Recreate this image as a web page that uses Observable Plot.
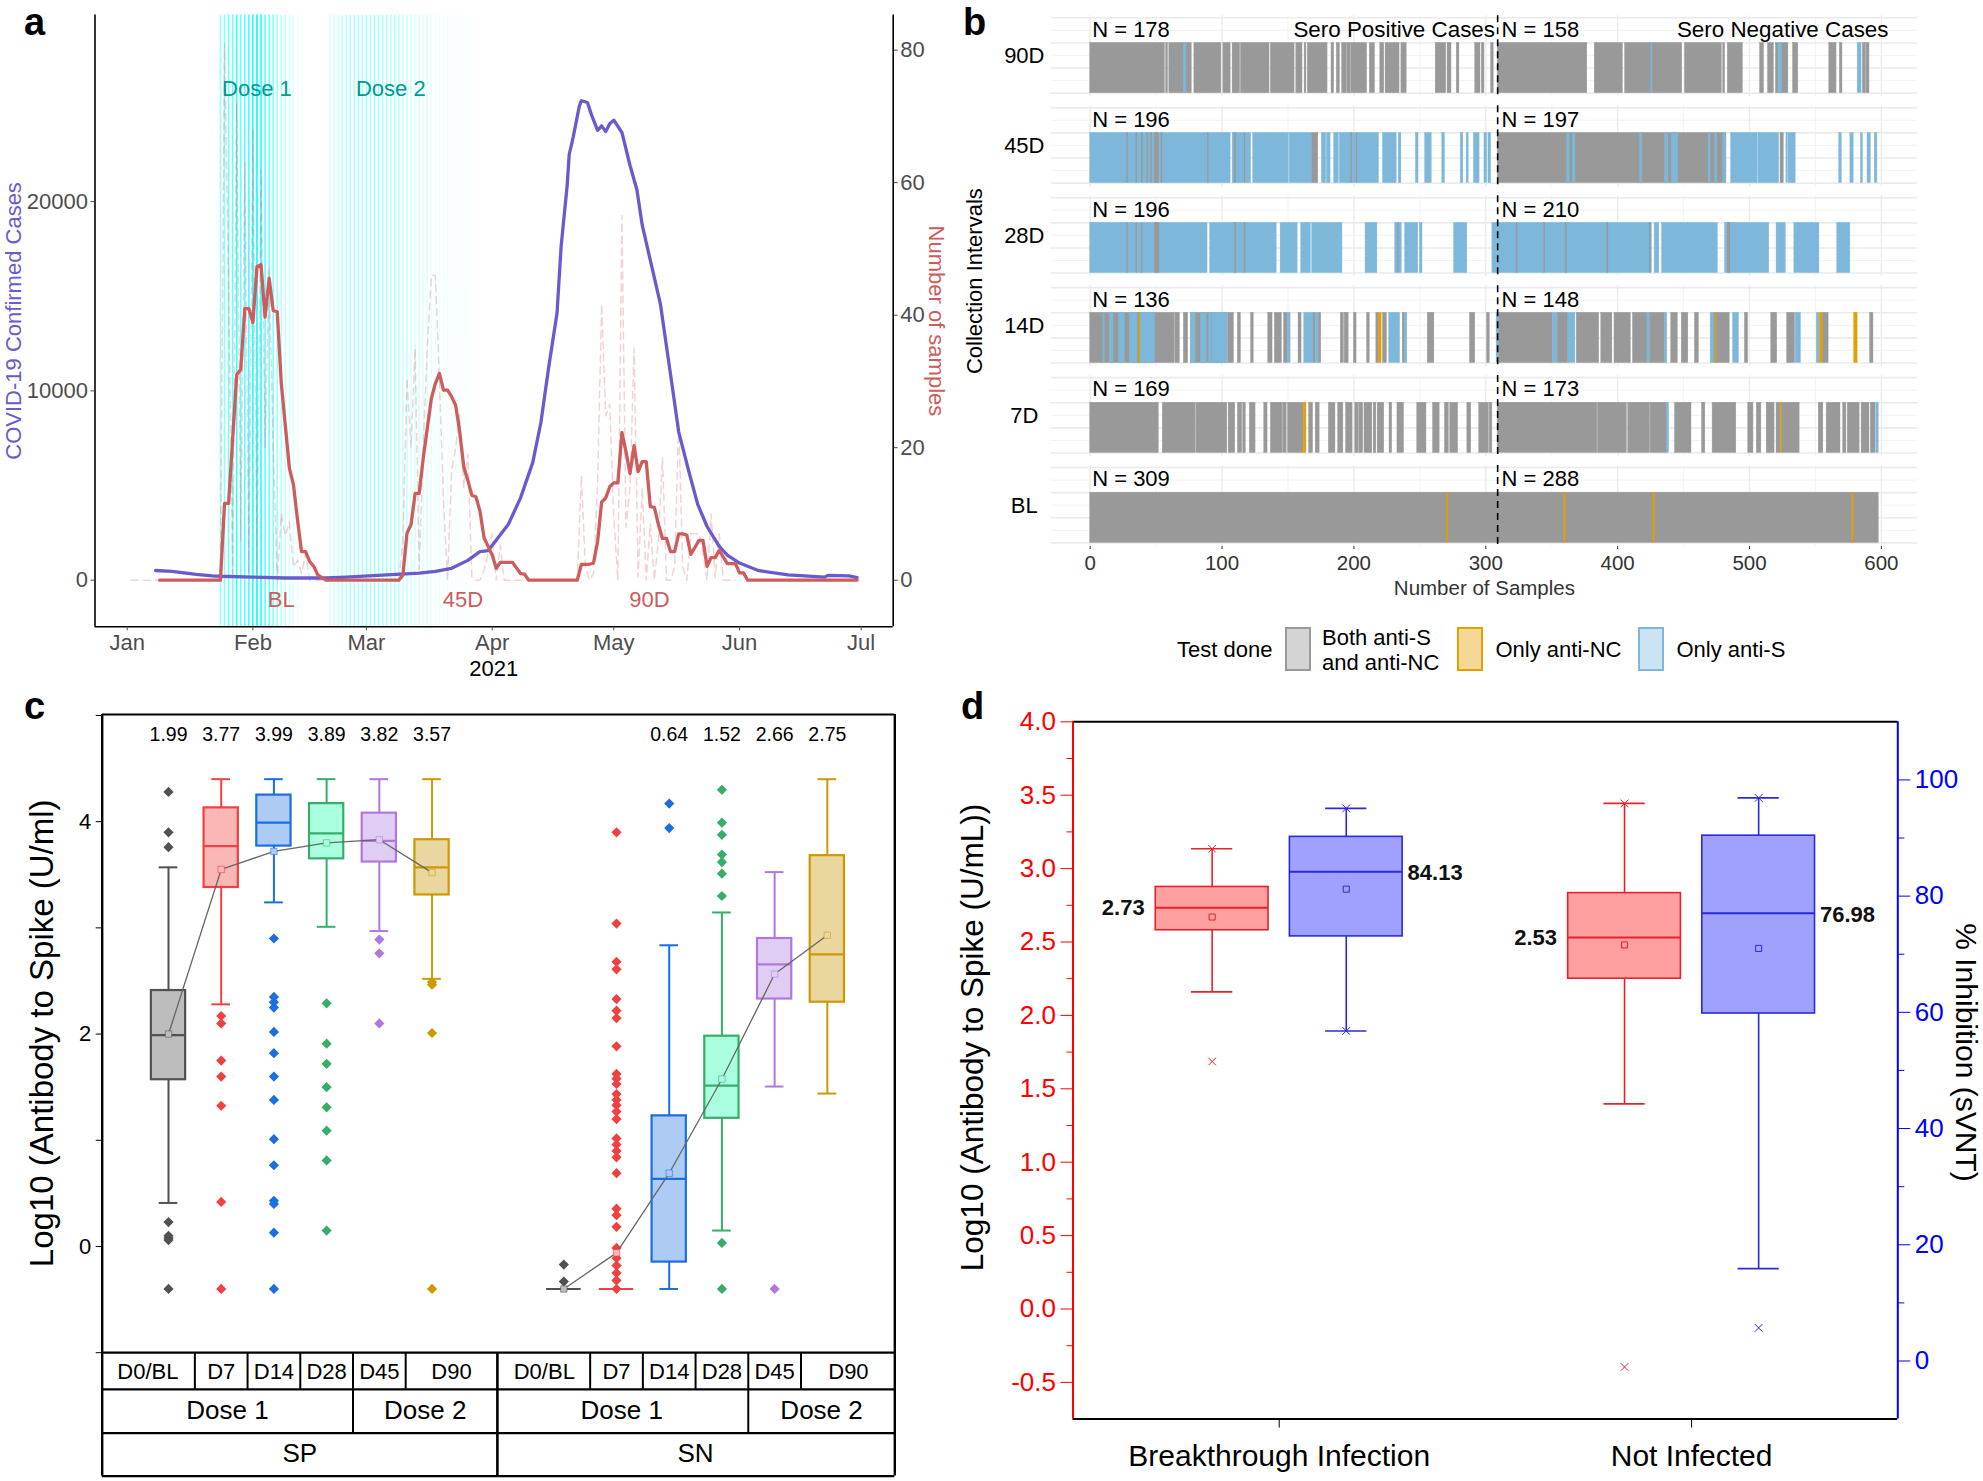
<!DOCTYPE html>
<html>
<head>
<meta charset="utf-8">
<script src="https://cdn.jsdelivr.net/npm/d3@7"></script>
<script src="https://cdn.jsdelivr.net/npm/@observablehq/plot@0.6"></script>
<style>
  html, body { margin: 0; padding: 0; background: #fff; }
  #page { position: relative; width: 1983px; height: 1481px; overflow: hidden; font-family: "Liberation Sans", Arial, sans-serif; }
  #page svg { position: absolute; background: transparent; }
  .letter { position: absolute; font-weight: bold; font-size: 38px; line-height: 32px; color: #000; }
  .legendText { position: absolute; font-size: 22px; line-height: 25px; color: #000; white-space: nowrap; }
  .swatch { position: absolute; box-sizing: border-box; border-width: 2px; border-style: solid; }
</style>
</head>
<body>
<div id="page"></div>
<script>
// ---------- Panel a data (day = days since 1 Jan 2021) ----------
const monthTicks = ["2021-01-01","2021-02-01","2021-03-01","2021-04-01","2021-05-01","2021-06-01","2021-07-01"];
const casesTicks = [0, 10000, 20000];
const samplesTicks = [0, 20, 40, 60, 80];
const confirmedCases = [[7,512],[11,465],[17,302],[21,233],[23,209],[31,163],[39,116],[49,116],[54,163],[64,279],[72,372],[76,465],[80,628],[84,1047],[87,1512],[89,1558],[94,2953],[97,4349],[100,6209],[102,8302],[104,11326],[106,14116],[107,17605],[108.5,20860],[109,22488],[110,23419],[111.5,25047],[112,25326],[113.5,25233],[114.5,24581],[116,23767],[117,24000],[118,23698],[119,24116],[120,24302],[122,23651],[124,21907],[125.7,20628],[127,18767],[129,16907],[131.5,14581],[134,10860],[136,7837],[138.5,5744],[140.7,4000],[143,2837],[146,1791],[148,1326],[151,907],[155.6,512],[163,279],[172,163],[172.8,256],[178,233],[180,140]];
const samplesAverage = [[8,0],[23,0],[24,11.6],[25,11.6],[27,31],[28,31.8],[29,41],[30,41],[31,38.9],[32,47.3],[33,47.6],[34,39.7],[35,45.6],[36,40.7],[37,40.5],[38,29.7],[40,16.9],[41,14.4],[42,9.1],[43,4.3],[44,4.3],[45,2.8],[46,2.1],[47,.8],[49,0],[67,0],[68,.8],[69,7.1],[70,8.4],[71,13.1],[72,13.1],[73,18.4],[75,27.4],[76,29.7],[77,31.2],[78,28.7],[79,28.7],[80,27.7],[81,26.4],[82,22.4],[83,17.1],[84,15.1],[85,12.8],[86,12.6],[87,10.4],[88,6.4],[89,5.1],[90,3.8],[91,1.8],[92,2.7],[95,2.7],[97,1],[98,.9],[99,0],[111,0],[112,2.4],[114,2.4],[115,2.6],[116,5.8],[117,11.8],[118,12.4],[119,14.1],[120,14.7],[121,14.7],[122,22.3],[123,19.4],[124,16.1],[125,20.3],[126,16.4],[127,17.9],[128,17.9],[129,11.1],[130,11],[131,8.4],[132,6.3],[133,6.3],[134,4.3],[135,4.3],[136,7],[137,7],[138,6.8],[139,3.9],[141,6],[142,6],[143,2.1],[144,3.4],[145,3.4],[146,4.5],[147,3.5],[148,2.5],[150,2.5],[151,1.1],[152,1.1],[153,0],[180,0]];
const samplesDaily = [[1,0],[23,0],[24,81],[25,45],[26,1],[27,72],[28,6],[29,63],[30,1],[31,68],[32,1],[33,62],[34,20],[35,47],[36,20],[37,0],[38,10],[39,6.7],[40,8.8],[41,2],[42,3],[43,1],[44,4],[45,0],[67,0],[68,6],[69,30.5],[70,20],[71,35],[72,1.6],[73,20],[74,35],[75,46],[76,46],[77,30],[78,12],[79,0],[80,16.5],[81,20],[82,25],[83,14],[84,19],[85,.5],[86,0],[87,0],[88,1.5],[89,4],[90,7],[91,0],[92,5.3],[93,0],[111,0],[112,15.8],[113,2],[114,0],[115,1],[116,14.6],[117,41.7],[118,24.8],[119,26.6],[120,9.5],[121,0],[122,55],[123,8],[124,14],[125,35],[126,.5],[127,13.9],[128,0],[129,8.5],[130,0],[131,6],[132,18.5],[133,0],[134,0],[135,2],[136,24],[137,2],[138,0],[139,7],[140,7],[141,7],[142,4],[143,0],[144,10],[145,.4],[146,7],[147,0],[150,0]];
const dose1Days = [23,24,25,26,27,28,29,30,31,32,33,34,35,36,37,38,39,40,41,42,43];
const dose1Share = [.4,.45,.55,.6,.8,.6,.65,.75,.9,1,.9,.65,.6,.5,.4,.3,.22,.16,.12,.08,.05];
const dose2Days = [50,51,52,53,54,55,56,57,58,59,60,61,62,63,64,65,66,67,68,69,70,71,72,73,74,75,76,77,78,79,80,81,82,83,84];
const dose2Share = [.15,.2,.22,.28,.28,.32,.32,.32,.32,.38,.32,.38,.32,.32,.32,.28,.28,.28,.22,.22,.16,.16,.16,.13,.12,.1,.08,.08,.06,.05,.05,.04,.04,.03,.03];
const periodLabels = ["BL","45D","90D"];
const periodDays = [38,82.8,128.8];
const doseLabels = ["Dose 1","Dose 2"];
const doseLabelDays = [32,65];

// ---------- Panel b data: [from, to, test]; later segments lie on top ----------
const testLabels = ["Both anti-S and anti-NC","Only anti-NC","Only anti-S"];
const testColors = ["#999999","#E69F00","#7DB8DB"];
const [B, N, S] = testLabels;
const intervalRows = ["90D","45D","28D","14D","7D","BL"];
const rowCountsPositive = [178,196,196,136,169,309];
const rowCountsNegative = [158,197,210,148,173,288];
const row90D = [[0,56.6,B],[57.5,59,B],[60,77,B],[71,73,S],[79,99.5,B],[101,106.5,B],[108,113.7,B],[114.3,136,B],[137,155,B],[156.3,161,B],[162.6,164,B],[165,180,B],[183,185,B],[187,189.4,B],[191,194.5,B],[195,197.5,B],[198,210,B],[212,216,B],[220,223,B],[224,234.6,B],[236,240,B],[262,270,B],[271,274,B],[278,280,B],[292,296,B],[297,299,B],[304,306,B],
  [309,377,B],[382.6,404,B],[405.6,449,B],[425.6,426.4,S],[451,479,B],[480,481.5,B],[483.5,495,B],[508,511,B],[514,518.5,B],[520,529.5,B],[522,524.5,S],[533,537,B],[560.5,566,B],[568.5,570.5,B],[582,585,S],[586,588,B],[588.5,591,B]];
const row45D = [[0,106.5,S],[28,28.7,B],[35,35.7,B],[39,39.8,B],[43.2,44,B],[46.2,47,B],[49,52,B],[54,54.8,B],[89.2,89.9,B],[108,122,S],[109.5,110.7,B],[117,117.7,B],[123.6,150.7,S],[151.3,168.4,S],[168.4,173,B],[175.7,179,S],[179.5,182.3,S],[185,188.6,S],[189.3,219,S],[198,198.7,B],[202,202.7,B],[222,232.4,S],[234,236,S],[247,249,S],[254,259,S],[267,269,S],[281,283,S],[285.5,287,S],[291,295.3,S],[299,301,S],[302,304,S],
  [309,482.5,B],[361.6,363.6,S],[366,368,S],[417,418.6,S],[436,438.5,S],[441,446,S],[469,470.5,S],[474,475.5,S],[480,482,S],[486,506.2,S],[506.8,522.5,S],[523.5,526,B],[528,529,S],[529.5,535,S],[568,570,S],[576.5,579,S],[584.5,586,S],[589.5,592,S],[595,597,S]];
const row28D = [[0,89,S],[28,28.7,B],[35,35.7,B],[39,39.7,B],[49,52.5,B],[91,141.4,S],[110,110.8,B],[117,117.8,B],[144.4,157.3,S],[160,167.3,S],[168.3,191.3,S],[208.8,217.8,S],[231.3,236.3,S],[233.4,234.2,B],[238.8,248.8,S],[250,252,S],[276,286,S],[305,308.7,S],
  [308.7,426,S],[323.3,324.1,B],[344.3,345.1,B],[360.6,361.4,B],[392.2,393,B],[424.2,425,B],[428,431.6,S],[433.6,476,S],[481.5,515,S],[483.5,485.5,B],[520.5,527.5,S],[534,553,S],[566.5,576.5,S]];
const row14D = [[0,64.2,B],[10,11,S],[14.7,17.7,S],[21.7,26.3,S],[30,36.4,S],[36.4,37.2,B],[37,38.2,N],[38.2,49.3,S],[64.7,68,B],[71,74.3,B],[76.4,104.2,B],[76.4,80,S],[84,88.5,S],[90,92,S],[92.5,104.2,S],[104.7,109,B],[112,114.3,B],[122,124,B],[135,138.3,B],[140,145.4,B],[147,150,B],[150,152,S],[158,160.3,B],[162.3,169.4,S],[169.4,171,B],[171,173.5,S],[173.5,175.2,B],[190,192.4,B],[193,196,B],[200,202,B],[210,212,B],[217,219,B],[219,221,N],[222,225,B],[226.8,235,S],[237,238.5,B],[238.5,240.5,S],[256,261,B],[288,292,B],[301,303,B],[308.2,310,S],
  [310,351,B],[351,354.6,S],[354.6,362.6,B],[362.6,368,S],[369,386,B],[387.6,396,B],[397.6,410,B],[411.6,422.6,B],[422.6,424.6,S],[424.6,436,B],[436,437.6,S],[440.6,445.6,B],[448.6,453.6,B],[458.6,461.6,B],[470.5,473.5,S],[473.5,485,B],[474.3,475,N],[487.5,492,S],[496.5,499,B],[516.5,521,B],[528.5,534.5,B],[535,539,S],[551,553.5,S],[553.5,556,N],[556,560,B],[579.4,582,N],[591.4,594,B]];
const row7D = [[0,52,B],[55,80,B],[80.6,104,B],[105,110,B],[112,115.3,B],[116,118,B],[121,125.4,B],[132,134.5,B],[137,146,B],[146.5,149,B],[150,162,B],[162,164,N],[166,169,B],[171,174,B],[181,186,B],[188,192,B],[194,199,B],[201,203.5,B],[204,207,B],[208,214,B],[215,217,B],[218,223,B],[227,229,B],[233,238,B],[248,255,B],[260,265,B],[269,272,B],[273,279,B],[286,289,B],[295,302.4,B],[303,305,B],
  [309,384.6,B],[385,407,B],[408,424.6,B],[425,437.6,B],[437.6,439,S],[443.5,456,B],[464,466.5,B],[472,490,B],[499,503,B],[505.5,509,B],[513,519,B],[520.5,524,B],[524,525,N],[525,538,B],[552.5,556,B],[558.5,569,B],[571,573.5,B],[574.5,583.5,B],[585,591,B],[592,595.5,B],[596,598,S]];
const rowBL = [[0,598,B],[270.3,271.3,N],[359.5,360.5,N],[427.1,428.1,N],[577.9,578.9,N]];
const sampleTicks = [0,100,200,300,400,500,600];
const sampleMinorTicks = [50,150,250,350,450,550];
const positiveTotal = 309;

// ---------- Panel c data ----------
const visitLabels = ["D0/BL","D7","D14","D28","D45","D90"];
const slotsSP = [0,1,2,3,4,5];
const slotsSN = [7.5,8.5,9.5,10.5,11.5,12.5];
const boxColors = ["#515151","#F14040","#1A6FDF","#37AD6B","#B177DE","#CC9900"];
const boxFills = ["#bdbdbd","#fbb6b6","#aecbf3","#aaffde","#e0cdf3","#ead7a0"];
const q1SP = [1.57,3.38,3.77,3.65,3.62,3.31];
const q3SP = [2.41,4.13,4.25,4.17,4.08,3.83];
const medianSP = [1.99,3.77,3.99,3.89,3.82,3.57];
const lowSP = [.41,2.28,3.24,3.01,2.97,2.52];
const highSP = [3.57,4.4,4.4,4.4,4.4,4.4];
const meanSP = [2.0,3.55,3.72,3.8,3.83,3.52];
const outliersSP = [
  [4.28,3.9,3.76,.23,.1,.08,.06,-.4],
  [2.17,2.1,1.75,1.6,1.325,.42,-.4],
  [2.9,2.35,2.3,2.25,2.02,1.82,1.6,1.38,1.01,.765,.43,.4,.13,-.4],
  [2.29,1.91,1.72,1.5,1.31,1.09,.81,.15],
  [2.89,2.76,2.1],
  [2.49,2.465,2.01,-.4]];
const q1SN = [-.4,-.4,-.147,1.207,2.33,2.3];
const q3SN = [-.4,-.4,1.23,1.98,2.9,3.68];
const medianSN = [-.4,-.4,.637,1.515,2.656,2.75];
const lowSN = [-.4,-.4,-.4,.15,1.506,1.44];
const highSN = [-.4,-.4,2.836,3.145,3.525,4.4];
const meanSN = [-.4,-.06,.69,1.577,2.565,2.93];
const outliersSN = [
  [-.17,-.33],
  [3.9,3.04,2.68,2.61,2.33,2.22,2.15,1.885,1.625,1.58,1.53,1.435,1.38,1.33,1.27,1.2,1.017,.96,.9,.84,.69,.356,.295,.185,-.014,-.11,-.18,-.25,-.32,-.4],
  [4.17,3.94],
  [4.3,3.99,3.876,3.69,3.62,3.51,3.3,.033,-.4],
  [-.4],
  []];
const medianTextSP = ["1.99","3.77","3.99","3.89","3.82","3.57"];
const medianTextSN = ["","","0.64","1.52","2.66","2.75"];
const tableDoseLabels = ["Dose 1","Dose 2","Dose 1","Dose 2"];
const tableDoseCenters = [1.12,4.87,8.6,12.39];
const tableGroupLabels = ["SP","SN"];
const tableGroupCenters = [2.49,10];
const visitCentersSP = [-.39,1,2,3,4,5.37];
const visitCentersSN = [7.13,8.5,9.5,10.5,11.5,12.9];
const visitEdges = [.5,1.5,2.5,3.5,4.5,8,9,10,11,12];
const doseEdges = [3.5,11];
const logTicks = [-1,0,1,2,3,4,5];

// ---------- Panel d data ----------
const outcomeLabels = ["Breakthrough Infection","Not Infected"];
const outcomeSlots = [1,2];
const spikeQ1 = [2.58,2.25];
const spikeQ3 = [2.875,2.833];
const spikeMedian = [2.733,2.53];
const spikeLow = [2.16,1.397];
const spikeHigh = [3.135,3.444];
const spikeMean = [2.67,2.48];
const spikeOutlier = [1.686,-.395];
const spikeLabel = ["2.73","2.53"];
const svntQ1 = [73.07,59.8];
const svntQ3 = [90.2,90.4];
const svntMedian = [84.2,77.06];
const svntLow = [56.8,15.9];
const svntHigh = [95.1,96.9];
const svntMean = [81.2,71];
const svntLabel = ["84.13","76.98"];
const svntCrosses = [[95.1,56.8],[96.9,5.7]];
const spikeTicks = [-.5,0,.5,1,1.5,2,2.5,3,3.5,4];
const spikeMinorTicks = [-.25,.25,.75,1.25,1.75,2.25,2.75,3.25,3.75];
const svntTicks = [0,20,40,60,80,100];
const svntMinorTicks = [10,30,50,70,90];

// ---------- helpers ----------
const page = document.getElementById("page");
const FONT = '"Liberation Sans", Arial, sans-serif';
function place(svg, left, top) { svg.style.left = left + "px"; svg.style.top = top + "px"; page.appendChild(svg); }
function letter(t, x, y) { const d = document.createElement("div"); d.className = "letter"; d.textContent = t; d.style.left = x + "px"; d.style.top = y + "px"; page.appendChild(d); }

// ---------- Panel a ----------
const dayDate = d => new Date(Date.UTC(2021,0,1) + d*864e5);
const casesPerSample = 350;
const aRed = "#CD5C5C", aBlue = "#6A5ACD";
const dose1 = dose1Days.map((d,i) => ({d, a: dose1Share[i]}));
const dose2 = dose2Days.map((d,i) => ({d, a: dose2Share[i]}));
const doseRules = dose1.concat(dose2);
place(Plot.plot({
  width: 960, height: 690, marginLeft: 94.5, marginRight: 67.3, marginTop: 14.5, marginBottom: 63.7,
  style: {fontFamily: FONT, fontSize: "22px", background: "transparent"},
  x: {type: "utc", domain: [dayDate(-7.94), dayDate(188.9)]},
  y: {domain: [-2462, 29857]},
  marks: [
    Plot.ruleX(doseRules, {x: r => dayDate(r.d), stroke: "#00ffff", strokeOpacity: r => r.a, strokeWidth: 1.6}),
    Plot.line(samplesDaily, {x: r => dayDate(r[0]), y: r => r[1]*casesPerSample, stroke: aRed, strokeOpacity: .27, strokeWidth: 1.5, strokeDasharray: "7,5", curve: "linear"}),
    Plot.line(confirmedCases, {x: r => dayDate(r[0]), y: r => r[1], stroke: aBlue, strokeWidth: 3.3, curve: "linear"}),
    Plot.line(samplesAverage, {x: r => dayDate(r[0]), y: r => r[1]*casesPerSample, stroke: aRed, strokeWidth: 3.3, curve: "linear"}),
    Plot.text(doseLabels, {x: (_,i) => dayDate(doseLabelDays[i]), y: 25974, text: d => d, fill: "#009a93", fontSize: 22}),
    Plot.text(periodLabels, {x: (_,i) => dayDate(periodDays[i]), y: -1046, text: d => d, fill: aRed, fontSize: 22}),
    Plot.ruleY([-2462], {stroke: "#000", strokeWidth: 1.6}),
    Plot.ruleX([dayDate(-7.94)], {stroke: "#000", strokeWidth: 1.6}),
    Plot.ruleX([dayDate(188.9)], {stroke: "#000", strokeWidth: 1.6}),
    Plot.axisX({ticks: monthTicks.map(d => new Date(d)), tickFormat: d3.utcFormat("%b"), label: null, tickSize: 4, tickPadding: 4, color: "#4d4d4d"}),
    Plot.axisY({ticks: casesTicks, tickFormat: d => String(d), label: null, tickSize: 4, tickPadding: 3, color: "#4d4d4d"}),
    Plot.axisY({anchor: "right", ticks: samplesTicks.map(d => d*casesPerSample), tickFormat: d => String(Math.round(d/casesPerSample)), label: null, tickSize: 4, tickPadding: 3, color: "#4d4d4d"}),
    Plot.text(["2021"], {x: () => dayDate(90.4), y: -4665, text: d => d, fill: "#000", fontSize: 22}),
    Plot.text(["COVID-19 Confirmed Cases"], {frameAnchor: "left", textAnchor: "middle", rotate: -90, dx: -81.5, text: d => d, fill: aBlue, fontSize: 22}),
    Plot.text(["Number of samples"], {frameAnchor: "right", textAnchor: "middle", rotate: 90, dx: 43, text: d => d, fill: aRed, fontSize: 22})
  ]
}), 0, 0);
letter("a", 24, 6);

// ---------- Panel b ----------
const rowTable = [row90D,row45D,row28D,row14D,row7D,rowBL];
const segments = rowTable.flatMap((row,i) => row.map(s => ({row: intervalRows[i], x1: s[0], x2: s[1], test: s[2]})));
const nLabelsLeft = intervalRows.map((row,i) => ({row, t: "N = " + rowCountsPositive[i]}));
const nLabelsRight = intervalRows.map((row,i) => ({row, t: "N = " + rowCountsNegative[i]}));
place(Plot.plot({
  width: 1033, height: 606, marginLeft: 100.8, marginRight: 66, marginTop: 15.3, marginBottom: 60,
  style: {fontFamily: FONT, fontSize: "22px", background: "transparent"},
  x: {domain: [-29.5, 627.4], axis: null},
  y: {domain: [-.143, 3.08], axis: null},
  fy: {domain: intervalRows, paddingInner: .1, paddingOuter: 0, axis: null, round: false},
  color: {domain: testLabels, range: testColors},
  marks: [
    Plot.ruleX(sampleMinorTicks, {stroke: "#f0f0f0", strokeWidth: .8}),
    Plot.ruleX(sampleTicks, {stroke: "#ebebeb", strokeWidth: 1.4}),
    Plot.ruleY([.5,1.5,2.5], {stroke: "#f0f0f0", strokeWidth: .8}),
    Plot.ruleY([0,1,2,3], {stroke: "#ebebeb", strokeWidth: 1.6}),
    Plot.rect(segments, {x1: "x1", x2: "x2", y1: 0, y2: 2, fy: "row", fill: "test", stroke: "test", strokeWidth: .4}),
    Plot.ruleX([positiveTotal], {stroke: "#000", strokeWidth: 1.6, strokeDasharray: "7,5"}),
    Plot.text(nLabelsLeft, {x: 1.5, y: 2.53, fy: "row", text: "t", textAnchor: "start", fontSize: 22, fill: "#000"}),
    Plot.text(nLabelsRight, {x: 312, y: 2.53, fy: "row", text: "t", textAnchor: "start", fontSize: 22, fill: "#000"}),
    Plot.text([{row: "90D", t: "Sero Positive Cases"}], {x: 307, y: 2.53, fy: "row", text: "t", textAnchor: "end", fontSize: 22.4, fill: "#000"}),
    Plot.text([{row: "90D", t: "Sero Negative Cases"}], {x: 605.4, y: 2.53, fy: "row", text: "t", textAnchor: "end", fontSize: 22.4, fill: "#000"}),
    Plot.axisX({ticks: sampleTicks, label: "Number of Samples", labelAnchor: "center", labelArrow: "none", labelOffset: 48, tickSize: 3, tickPadding: 6, fontSize: 20.5, color: "#333"}),
    Plot.axisFy({anchor: "left", label: "Collection Intervals", labelAnchor: "center", labelArrow: "none", labelOffset: 85, tickSize: 0, tickPadding: 27, textAnchor: "middle", color: "#000"})
  ]
}), 950, 0);
letter("b", 963, 6);

// legend of panel b
function legendText(t, x, y) { const d = document.createElement("div"); d.className = "legendText"; d.innerHTML = t; d.style.left = x + "px"; d.style.top = y + "px"; page.appendChild(d); }
function swatch(x, fill, border) { const d = document.createElement("div"); d.className = "swatch"; Object.assign(d.style, {left: x + "px", top: "627px", width: "26px", height: "44px", background: fill, borderColor: border}); page.appendChild(d); }
legendText("Test done", 1177, 637);
swatch(1284.5, "#d4d4d4", testColors[0]);
legendText("Both anti-S<br>and anti-NC", 1322, 625);
swatch(1457, "#f5d898", testColors[1]);
legendText("Only anti-NC", 1495.5, 637);
swatch(1638, "#cbe3f2", testColors[2]);
legendText("Only anti-S", 1676.5, 637);

// ---------- Panel c ----------
function boxRows(slots, q1, q3, med, lo, hi, mean, outliers) {
  return slots.map((x,i) => ({x, q1: q1[i], q3: q3[i], med: med[i], lo: lo[i], hi: hi[i], mean: mean[i], out: outliers[i], i}));
}
const sp = boxRows(slotsSP,q1SP,q3SP,medianSP,lowSP,highSP,meanSP,outliersSP);
const sn = boxRows(slotsSN,q1SN,q3SN,medianSN,lowSN,highSN,meanSN,outliersSN);
const allBoxes = sp.concat(sn);
const realBoxes = allBoxes.filter(b => b.q3 > b.q1);
const outlierDots = allBoxes.flatMap(b => b.out.map(v => ({x: b.x, v, i: b.i})));
const cX = [-1.258, 13.78], cBottom = -2.162, cTop = 5.009, rowLines = [-1, -1.345, -1.758];
const bw = .325, cap = .177;
const colorOf = b => boxColors[b.i], fillOf = b => boxFills[b.i];
place(Plot.plot({
  width: 945, height: 791, marginLeft: 101.7, marginRight: 50.7, marginTop: 24, marginBottom: 5.4,
  style: {fontFamily: FONT, fontSize: "22px", background: "transparent"},
  x: {domain: cX, axis: null},
  y: {domain: [cBottom, cTop], axis: null},
  marks: [
    Plot.ruleX(allBoxes, {x: "x", y1: "lo", y2: "hi", stroke: colorOf, strokeWidth: 2}),
    Plot.ruleY(allBoxes, {y: "lo", x1: b => b.x - (b.q3 > b.q1 ? cap : bw), x2: b => b.x + (b.q3 > b.q1 ? cap : bw), stroke: colorOf, strokeWidth: 2}),
    Plot.ruleY(allBoxes, {y: "hi", x1: b => b.x - (b.q3 > b.q1 ? cap : bw), x2: b => b.x + (b.q3 > b.q1 ? cap : bw), stroke: colorOf, strokeWidth: 2}),
    Plot.rect(realBoxes, {x1: b => b.x - bw, x2: b => b.x + bw, y1: "q1", y2: "q3", fill: fillOf, stroke: colorOf, strokeWidth: 2.2}),
    Plot.ruleY(realBoxes, {y: "med", x1: b => b.x - bw, x2: b => b.x + bw, stroke: colorOf, strokeWidth: 2.2}),
    Plot.dot(outlierDots, {x: "x", y: "v", symbol: "diamond2", r: 4.6, fill: d => boxColors[d.i], stroke: "none"}),
    Plot.line(sp, {x: "x", y: "mean", stroke: "#666", strokeWidth: 1.3}),
    Plot.line(sn, {x: "x", y: "mean", stroke: "#666", strokeWidth: 1.3}),
    Plot.dot(allBoxes, {x: "x", y: "mean", symbol: "square", r: 3.6, fill: fillOf, stroke: colorOf, strokeOpacity: .55, strokeWidth: 1}),
    Plot.text(medianTextSP, {x: (_,i) => slotsSP[i], y: 4.817, text: d => d, fontSize: 19.5, fill: "#000"}),
    Plot.text(medianTextSN, {x: (_,i) => slotsSN[i], y: 4.817, text: d => d, fontSize: 19.5, fill: "#000"}),
    // frame and table rules
    Plot.ruleX(cX, {y1: cBottom, y2: cTop, stroke: "#000", strokeWidth: 2.4}),
    Plot.ruleY([cBottom, cTop, ...rowLines], {x1: cX[0], x2: cX[1], stroke: "#000", strokeWidth: 2.2}),
    Plot.ruleX(visitEdges, {y1: rowLines[0], y2: rowLines[1], stroke: "#000", strokeWidth: 2}),
    Plot.ruleX(doseEdges, {y1: rowLines[1], y2: rowLines[2], stroke: "#000", strokeWidth: 2}),
    Plot.ruleX([6.24], {y1: cBottom, y2: rowLines[0], stroke: "#000", strokeWidth: 2.6}),
    Plot.text(visitLabels, {x: (_,i) => visitCentersSP[i], y: -1.177, text: d => d, fontSize: 22, fill: "#000"}),
    Plot.text(visitLabels, {x: (_,i) => visitCentersSN[i], y: -1.177, text: d => d, fontSize: 22, fill: "#000"}),
    Plot.text(tableDoseLabels, {x: (_,i) => tableDoseCenters[i], y: -1.549, text: d => d, fontSize: 26, fill: "#000"}),
    Plot.text(tableGroupLabels, {x: (_,i) => tableGroupCenters[i], y: -1.952, text: d => d, fontSize: 26, fill: "#000"}),
    Plot.axisY({ticks: logTicks, tickFormat: d => (d >= 0 && d % 2 === 0) ? String(d) : "", label: null, tickSize: 6, tickPadding: 5, color: "#000", fontSize: 22}),
    Plot.text(["Log10 (Antibody to Spike (U/ml)"], {frameAnchor: "left", textAnchor: "middle", rotate: -90, dx: -59.7, dy: -62, text: d => d, fill: "#000", fontSize: 33})
  ]
}), 0, 690);
letter("c", 24, 690);

// ---------- Panel d ----------
const spikeToSvnt = v => (v + .75) / 4.75 * 120 - 10;
const svntToSpike = v => (v + 10) / 120 * 4.75 - .75;
const red = "#FF0000", blue = "#0000FF";
const redLine = "#E5222A", blueLine = "#2A2AD8";
const off = .1626, hw = .1367, capD = .05;
const redBoxes = outcomeSlots.map((g,i) => ({x: g - off, q1: spikeQ1[i], q3: spikeQ3[i], med: spikeMedian[i], lo: spikeLow[i], hi: spikeHigh[i], mean: spikeMean[i]}));
const blueBoxes = outcomeSlots.map((g,i) => ({x: g + off, q1: svntToSpike(svntQ1[i]), q3: svntToSpike(svntQ3[i]), med: svntToSpike(svntMedian[i]), lo: svntToSpike(svntLow[i]), hi: svntToSpike(svntHigh[i]), mean: svntToSpike(svntMean[i])}));
const boxMarks = (rows, fill, line) => [
  Plot.ruleX(rows, {x: "x", y1: "lo", y2: "hi", stroke: line, strokeWidth: 1.6}),
  Plot.ruleY(rows, {y: "lo", x1: b => b.x - capD, x2: b => b.x + capD, stroke: line, strokeWidth: 1.6}),
  Plot.ruleY(rows, {y: "hi", x1: b => b.x - capD, x2: b => b.x + capD, stroke: line, strokeWidth: 1.6}),
  Plot.rect(rows, {x1: b => b.x - hw, x2: b => b.x + hw, y1: "q1", y2: "q3", fill, stroke: line, strokeWidth: 1.6}),
  Plot.ruleY(rows, {y: "med", x1: b => b.x - hw, x2: b => b.x + hw, stroke: line, strokeWidth: 2}),
  Plot.dot(rows, {x: "x", y: "mean", symbol: "square", r: 3.4, fill: "none", stroke: line, strokeWidth: 1})
];
const redCrosses = redBoxes.flatMap((b,i) => [{x: b.x, v: b.hi}, {x: b.x, v: spikeOutlier[i]}]);
const blueCrosses = blueBoxes.flatMap((b,i) => svntCrosses[i].map(v => ({x: b.x, v: svntToSpike(v)})));
place(Plot.plot({
  width: 1033, height: 791, marginLeft: 122.5, marginRight: 85.7, marginTop: 31.3, marginBottom: 62.4,
  style: {fontFamily: FONT, fontSize: "26px", background: "transparent"},
  x: {domain: [.5, 2.5], axis: null},
  y: {domain: [-.75, 4], axis: null},
  marks: [
    ...boxMarks(redBoxes, "#FFA0A0", redLine),
    ...boxMarks(blueBoxes, "#A0A0FF", blueLine),
    Plot.dot(redCrosses, {x: "x", y: "v", symbol: "times", r: 3.6, stroke: redLine, strokeWidth: 1}),
    Plot.dot(blueCrosses, {x: "x", y: "v", symbol: "times", r: 3.6, stroke: blueLine, strokeWidth: 1}),
    Plot.text(spikeLabel, {x: (_,i) => redBoxes[i].x - hw - .027, y: (_,i) => spikeMedian[i], text: d => d, textAnchor: "end", fontWeight: "bold", fontSize: 22, fill: "#111"}),
    Plot.text(svntLabel, {x: (_,i) => blueBoxes[i].x + hw + .012, y: (_,i) => svntToSpike(svntMedian[i]) - .01, text: d => d, textAnchor: "start", fontWeight: "bold", fontSize: 22, fill: "#111"}),
    Plot.ruleY([-.75, 4], {stroke: "#000", strokeWidth: 2}),
    Plot.ruleX([.5], {stroke: red, strokeWidth: 2}),
    Plot.ruleX([2.5], {stroke: blue, strokeWidth: 2}),
    Plot.axisY({ticks: spikeTicks, tickFormat: d => d.toFixed(1), label: null, tickSize: 12, tickPadding: 5, color: red}),
    Plot.axisY({ticks: spikeMinorTicks, tickFormat: () => "", label: null, tickSize: 6, color: red}),
    Plot.axisY({anchor: "right", ticks: svntTicks.map(svntToSpike), tickFormat: d => String(Math.round(spikeToSvnt(d))), label: null, tickSize: 12, tickPadding: 5, color: blue}),
    Plot.axisY({anchor: "right", ticks: svntMinorTicks.map(svntToSpike), tickFormat: () => "", label: null, tickSize: 6, color: blue}),
    Plot.axisX({ticks: outcomeSlots, tickFormat: d => outcomeLabels[d-1], label: null, tickSize: 9, tickPadding: 17, color: "#000", fontSize: 30}),
    Plot.text(["Log10 (Antibody to Spike (U/mL))"], {frameAnchor: "left", textAnchor: "middle", rotate: -90, dx: -100.5, dy: -33, text: d => d, fill: "#000", fontSize: 31.5}),
    Plot.text(["% Inhibition (sVNT)"], {frameAnchor: "right", textAnchor: "middle", rotate: 90, dx: 67.5, dy: -18, text: d => d, fill: "#000", fontSize: 30})
  ]
}), 950, 690);
letter("d", 961, 690);
</script>
</body>
</html>
